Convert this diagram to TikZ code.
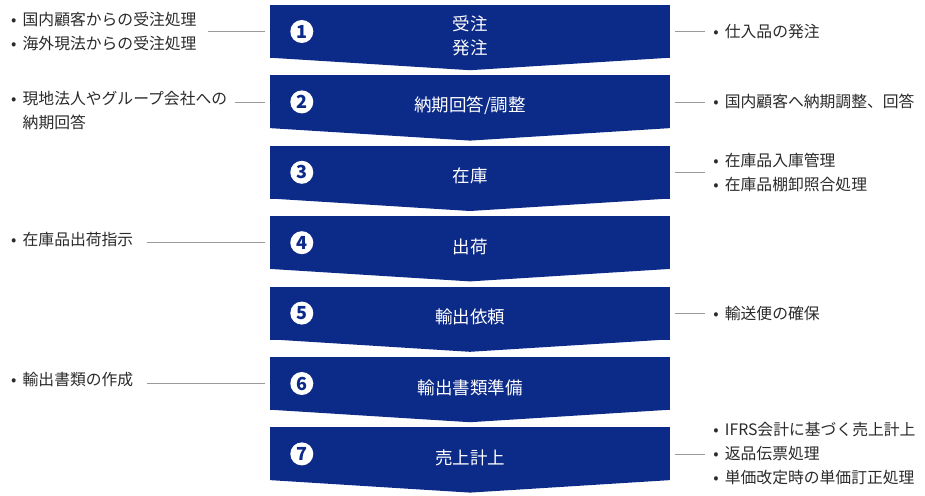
\documentclass[tikz,border=0pt]{standalone}
\usepackage{fontspec}
\setmainfont{Noto Sans CJK JP}
\usetikzlibrary{positioning}

\definecolor{navy}{HTML}{0C2A87}
\definecolor{ink}{HTML}{2A2A2A}
\definecolor{rule}{HTML}{9A9A9A}
\newcommand\bul{\makebox[11.5pt][l]{•}}
\newcommand\cont{\hspace*{11.5pt}}

\tikzset{
  stepbox/.style={fill=navy, minimum width=400pt, minimum height=53pt, inner sep=0pt},
  steptext/.style={text=white, font=\fontsize{17.5}{24}\selectfont, align=center},
  stepnum/.style={circle, fill=white, text=navy, minimum size=23pt, inner sep=0pt,
    font=\fontsize{18}{18}\selectfont\bfseries},
  side/.style={text=ink, font=\fontsize{15.8}{24}\selectfont, align=left, inner sep=0pt},
  link/.style={draw=rule, line width=0.8pt},
}

\begin{document}
\begin{tikzpicture}[x=1pt, y=-1pt, node distance=17pt]
    \useasboundingbox (0,0) rectangle (925,495);
    % steps
    \node[stepbox] (b1) at (470,31.5) {};
    \node[stepbox, below=of b1] (b2) {};
    \node[stepbox, below=of b2] (b3) {};
    \node[stepbox, below=of b3] (b4) {};
    \node[stepbox, below=of b4] (b5) {};
    \node[stepbox, below=of b5] (b6) {};
    \node[stepbox, below=of b6] (b7) {};
    \foreach \i in {1,...,7}{
      \fill[navy] ([yshift=0.5pt]b\i.south west) -- ([yshift=0.5pt]b\i.south east)
        -- ([yshift=-12pt]b\i.south) -- cycle;
      \node[stepnum] (n\i) at ([xshift=32pt]b\i.west) {\i};
    }
    \node[steptext] (t1) at ([yshift=-4pt]b1.center) {受注\\発注};
    \node[steptext] (t2) at ([yshift=-4pt]b2.center) {納期回答/調整};
    \node[steptext] (t3) at ([yshift=-4pt]b3.center) {在庫};
    \node[steptext] (t4) at ([yshift=-4pt]b4.center) {出荷};
    \node[steptext] (t5) at ([yshift=-4pt]b5.center) {輸出依頼};
    \node[steptext] (t6) at ([yshift=-4pt]b6.center) {輸出書類準備};
    \node[steptext] (t7) at ([yshift=-4pt]b7.center) {売上計上};

    % left side
    \node[side, anchor=west] (L1) at (11,32) {\bul 国内顧客からの受注処理\\\bul 海外現法からの受注処理};
    \node[side, anchor=west] (L2) at (11,111) {\bul 現地法人やグループ会社への\\\cont 納期回答};
    \node[side, anchor=west] (L4) at (11,239.5) {\bul 在庫品出荷指示};
    \node[side, anchor=west] (L6) at (11,380) {\bul 輸出書類の作成};
    \coordinate (l1) at ([xshift=-62pt]b1.west);
    \coordinate (l2) at ([xshift=-35pt]b2.west);
    \coordinate (l4) at ([xshift=-123pt]b4.west);
    \coordinate (l6) at ([xshift=-123pt]b6.west);
    \draw[link] (l1) -- ([xshift=-5pt]b1.west);
    \draw[link] (l2) -- ([xshift=-5pt]b2.west);
    \draw[link] (l4) -- ([xshift=-5pt]b4.west);
    \draw[link] (l6) -- ([xshift=-5pt]b6.west);

    % right side
    \coordinate (r1) at ([xshift=35pt]b1.east);
    \coordinate (r2) at ([xshift=35pt]b2.east);
    \coordinate (r3) at ([xshift=35pt]b3.east);
    \coordinate (r5) at ([xshift=35pt]b5.east);
    \coordinate (r7) at ([xshift=35pt]b7.east);
    \draw[link] ([xshift=5pt]b1.east) -- (r1);
    \draw[link] ([xshift=5pt]b2.east) -- (r2);
    \draw[link] ([xshift=5pt]b3.east) -- (r3);
    \draw[link] ([xshift=5pt]b5.east) -- (r5);
    \draw[link] ([xshift=5pt]b7.east) -- (r7);
    \node[side, right=8pt of r1] (R1) {\bul 仕入品の発注};
    \node[side, right=8pt of r2] (R2) {\bul 国内顧客へ納期調整、回答};
    \node[side, right=8pt of r3] (R3) {\bul 在庫品入庫管理\\\bul 在庫品棚卸照合処理};
    \node[side, right=8pt of r5] (R5) {\bul 輸送便の確保};
    \node[side, right=8pt of r7] (R7) {\bul IFRS会計に基づく売上計上\\\bul 返品伝票処理\\\bul 単価改定時の単価訂正処理};
\end{tikzpicture}
\end{document}
